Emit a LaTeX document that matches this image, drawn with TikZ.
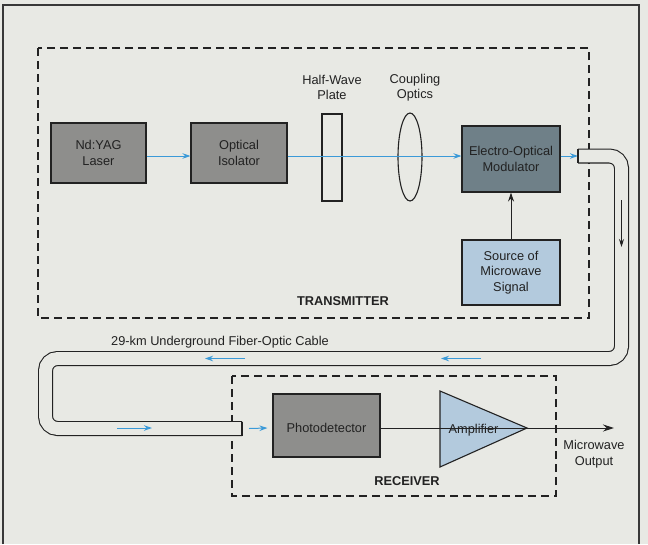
\documentclass[tikz,border=0pt]{standalone}
\usepackage{fontspec}
\setmainfont{Liberation Sans}
\usetikzlibrary{arrows.meta,calc,shapes.geometric}

\definecolor{paper}{HTML}{E8E9E4}
\definecolor{darkbox}{HTML}{8E8E8C}
\definecolor{eomfill}{HTML}{6F8088}
\definecolor{lightblue}{HTML}{B3CADD}
\definecolor{beam}{HTML}{3B9AD8}
\definecolor{ink}{HTML}{222222}

\tikzset{
  every node/.style={font=\fontsize{12.8}{15.5}\selectfont, text=ink, align=center},
  unit/.style={draw=ink, line width=1.1pt, inner sep=0pt},
  darkunit/.style={unit, fill=darkbox},
  blueunit/.style={unit, fill=lightblue},
  region/.style={draw=ink, line width=1.4pt, dash pattern=on 8pt off 5pt},
  ray/.style={draw=beam, line width=1pt, -{Stealth[length=8pt,width=5.5pt]}},
  wire/.style={draw=ink, line width=1pt, -{Stealth[length=11pt,width=7pt]}},
  fiber/.style={draw=ink, line width=1.1pt, double=paper, double distance=12.8pt, rounded corners=12pt},
  title/.style={font=\fontsize{12.8}{15.5}\selectfont\bfseries}
}

\begin{document}
\begin{tikzpicture}[x=1pt, y=-1pt]
  % page and open-bottomed frame
  \fill[paper] (0,0) rectangle (648,544);
  \useasboundingbox (0,0) rectangle (648,544);
  \draw[ink!90, line width=1.4pt] (3,544) -- (3,5) -- (639,5) -- (639,544);

  % subsystem regions
  \draw[region] (38,48) rectangle (589,318);
  \draw[region] (232,376) rectangle (556,496);

  % transmitter components
  \node[darkunit, minimum width=95pt, minimum height=60pt] (laser) at (98.5,153) {Nd:YAG\\Laser};
  \node[darkunit, minimum width=96pt, minimum height=60pt] (iso) at (239,153) {Optical\\Isolator};
  \node[unit, minimum width=20pt, minimum height=87pt] (plate) at (332,157.5) {};
  \node[unit, ellipse, minimum width=24pt, minimum height=88pt] (lens) at (410,157) {};
  \node[unit, fill=eomfill, minimum width=98pt, minimum height=66pt] (eom) at (511,159) {Electro-Optical\\Modulator};
  \node[blueunit, minimum width=98pt, minimum height=65pt] (src) at (511,272.5) {Source of\\Microwave\\Signal};

  \node (platelbl) at (332,87.5) {Half-Wave\\Plate};
  \node (lenslbl) at (415,87.5) {Coupling\\Optics};
  \node[title] (txlbl) at (343,301) {TRANSMITTER};

  % optical path
  \coordinate (axis) at (0,156);
  \coordinate (fs) at (578,156);
  \draw[ray] (laser.east |- axis) -- (iso.west |- axis);
  \draw[ray] (iso.east |- axis) -- (eom.west |- axis);
  \draw[ray] (eom.east |- axis) -- (fs);
  \draw[wire, -{Stealth[length=9pt,width=6pt]}] (src.north) -- (eom.south);

  % fiber-optic cable
  \coordinate (fe) at (242,428.5);
  \draw[fiber] (fs) -- (621.5,156) -- (621.5,358.5) -- (45.5,358.5) -- (45.5,428.5) -- (fe);
  \draw[ink, line width=1.1pt] ($(fs)+(0,-7)$) -- ($(fs)+(0,7)$);
  \draw[ink, line width=1.1pt] ($(fe)+(0,-7)$) -- ($(fe)+(0,7)$);
  \draw[wire, line width=0.8pt, -{Stealth[length=8pt,width=5pt]}] (621.5,200) coordinate (d1) -- (621.5,247) coordinate (d2);
  \draw[ray] (245,358.5) coordinate (c1) -- (205,358.5) coordinate (c2);
  \draw[ray] (481,358.5) coordinate (c3) -- (441,358.5) coordinate (c4);
  \draw[ray] (117,428) coordinate (c5) -- (152,428) coordinate (c6);
  \node (cablelbl) at (220,342) {29-km Underground Fiber-Optic Cable};

  % receiver components
  \node[darkunit, minimum width=107pt, minimum height=63pt] (pd) at (326.5,425.5) {};
  \node (pdlbl) at (326.5,427.5) {Photodetector};
  \coordinate (rx) at (0,428);
  \draw[ray] ($(fe)+(7,0)$) -- ($(pd.west |- rx)+(-5,0)$);
  \coordinate (a1) at (440,391);
  \coordinate (a2) at (527,428);
  \coordinate (a3) at (440,467);
  \draw[unit, fill=lightblue] (a1) -- (a2) -- (a3) -- cycle;
  \node (amp) at (473.5,430) {Amplifier};
  \coordinate (out) at (614,428);
  \draw[wire] (pd.east |- rx) -- (out);
  \node (outlbl) at (594,454) {Microwave\\Output};
  \node[title] (rxlbl) at (407,481) {RECEIVER};
\end{tikzpicture}
\end{document}
